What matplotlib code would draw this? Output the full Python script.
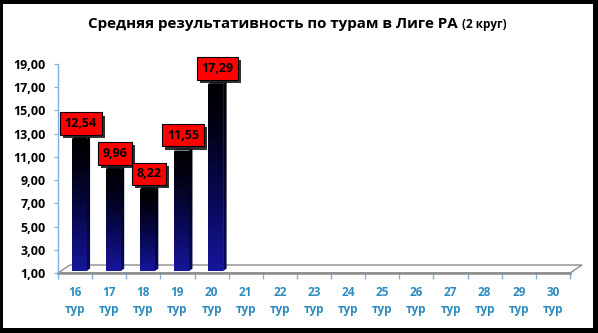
import matplotlib
matplotlib.use("Agg")
import matplotlib.pyplot as plt
import numpy as np
from matplotlib.patches import Rectangle, Polygon
from matplotlib import patheffects as pe

plt.rcParams['font.family'] = ['Open Sans', 'DejaVu Sans']

rounds = ['16', '17', '18', '19', '20', '21', '22', '23', '24', '25',
          '26', '27', '28', '29', '30']
goals = [12.54, 9.96, 8.22, 11.55, 17.29]
yticks = [1, 3, 5, 7, 9, 11, 13, 15, 17, 19]

W, H = 598, 333
fig = plt.figure(figsize=(W / 100, H / 100), dpi=100, facecolor='black')
# white card with a thicker black edge on the right and bottom
card = Rectangle((3 / W, 5 / H), 590 / W, 324 / H,
                 transform=fig.transFigure, facecolor='white',
                 edgecolor='none', zorder=-10)
fig.add_artist(card)

ax = fig.add_axes([58 / W, 1 - 273 / H, 512 / W, 209 / H])
ax.set_facecolor('none')
ax.set_xlim(-0.5, len(rounds) - 0.5)
ax.set_ylim(1, 19)

# pixel -> data unit factors
ux = (len(rounds)) / 512.0
uy = 18.0 / 209.0

# floor of the 3d plot
fx0, fx1 = -0.5, len(rounds) - 0.5
ddx, ddy = 12 * ux, 8 * uy
floor = Polygon([(fx0, 1), (fx1, 1), (fx1 + ddx, 1 + ddy), (fx0 + ddx, 1 + ddy)],
                closed=True, facecolor='white', edgecolor='#8c8c8c', lw=1.0,
                clip_on=False, zorder=1)
ax.add_patch(floor)
ax.plot([fx0, fx1], [1, 1], color='#8c8c8c', lw=1.8, clip_on=False, zorder=2)

# gradient columns
grad = np.linspace(0, 1, 256).reshape(-1, 1)
front_cmap = matplotlib.colors.LinearSegmentedColormap.from_list(
    'front', [(0, '#16169c'), (0.45, '#07074a'), (0.75, '#020218'),
              (1, '#000000')])
side_cmap = matplotlib.colors.LinearSegmentedColormap.from_list(
    'side', [(0, '#0b0b5c'), (0.45, '#040430'), (1, '#000000')])

bw = 15 * ux
sx, sy = 3.5 * ux, 2.3 * uy
base = 1 + 2 * uy
for i, v in enumerate(goals):
    xl = i - bw / 2 + 4 * ux
    xr = xl + bw
    bars = ax.bar([xl], [v - base], bottom=base, width=bw, align='edge',
                  color='none', edgecolor='none', zorder=3)
    bar = bars[0]
    im = ax.imshow(grad, cmap=front_cmap, aspect='auto', origin='lower',
                   extent=(xl, xr, base, v), zorder=3)
    im.set_clip_path(bar)
    side = Polygon([(xr, base), (xr, v), (xr + sx, v + sy), (xr + sx, base + sy)],
                   closed=True, facecolor='none', edgecolor='none', zorder=3)
    ax.add_patch(side)
    im2 = ax.imshow(grad, cmap=side_cmap, aspect='auto', origin='lower',
                    extent=(xr, xr + sx, base, v + sy), zorder=3)
    im2.set_clip_path(side)
    ax.add_patch(Polygon([(xl, v), (xr, v), (xr + sx, v + sy), (xl + sx, v + sy)],
                         closed=True, facecolor='#000010', edgecolor='none',
                         zorder=3))
    ax.set_xlim(-0.5, len(rounds) - 0.5)
    ax.set_ylim(1, 19)

    t = ax.annotate(f'{v:.2f}'.replace('.', ','), ((xl + xr + sx) / 2, v),
                    xytext=(0, 11), textcoords='offset points',
                    ha='center', va='center',
                    fontsize=9, fontweight='bold', color='black', zorder=5,
                    bbox=dict(boxstyle='square,pad=0.38', facecolor='#ff0000',
                              edgecolor='black', lw=0.8))
    t.get_bbox_patch().set_path_effects(
        [pe.SimplePatchShadow(offset=(2.2, -2.2), shadow_rgbFace='#1a1a1a',
                              alpha=0.9), pe.Normal()])

# axes decoration
for s in ['top', 'right', 'bottom']:
    ax.spines[s].set_visible(False)
ax.spines['left'].set_color('#7fb0e0')
ax.spines['left'].set_linewidth(1.0)

ax.set_yticks(yticks)
ax.set_yticklabels([f'{y:.2f}'.replace('.', ',') for y in yticks],
                   fontsize=9, fontweight='bold', color='black')
ax.tick_params(axis='y', direction='out', length=3, color='#7fb0e0', pad=6)

ax.set_xticks(range(len(rounds)))
ax.set_xticklabels([r + '\nтур' for r in rounds], fontsize=8.5,
                   fontweight='bold', color='#2e8bc0', linespacing=1.5)
ax.set_xticks(np.arange(-0.5, len(rounds)), minor=True)
ax.tick_params(axis='x', which='major', length=0, pad=9)
ax.tick_params(axis='x', which='minor', direction='out', length=4,
               color='#7fb0e0', width=1)

# title: main part plus smaller "(2 круг)"
main = fig.text(0, 1 - 28 / H, 'Средняя результативность по турам в Лиге РА',
                fontsize=10.9, fontweight='bold', va='baseline', ha='left')
sub = fig.text(0, 1 - 28 / H, '(2 круг)', fontsize=8.5, fontweight='bold',
               va='baseline', ha='left')
fig.canvas.draw()
r = fig.canvas.get_renderer()
w1 = main.get_window_extent(r).width
w2 = sub.get_window_extent(r).width
gap = 4
x0 = 297 - (w1 + gap + w2) / 2
main.set_x(x0 / W)
sub.set_x((x0 + w1 + gap) / W)

fig.savefig('out.png', dpi=100, facecolor='black')
